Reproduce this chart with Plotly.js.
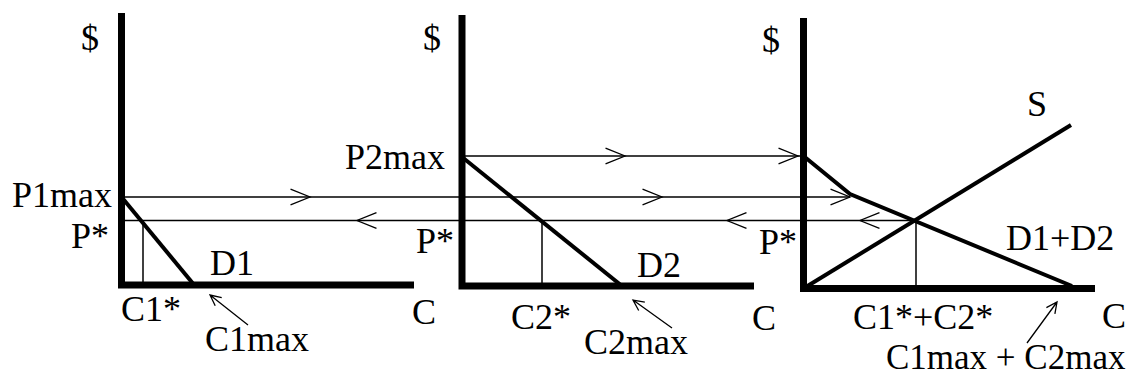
<!DOCTYPE html>
<html>
<head>
<meta charset="utf-8">
<script src="https://cdn.plot.ly/plotly-3.0.1.min.js"></script>
<style>html,body{margin:0;padding:0;background:#fff}</style>
</head>
<body>
<div id="chart" style="width:1135px;height:379px"></div>
<script>
// ── price levels (P2max, P1max, P*) ──────────────────────────────
const priceNames  = ['P2max', 'P1max', 'P*'];
const priceLevels = [130, 89, 65.5];

// ── demand / supply curves, quantity vs price, per panel ─────────
const d1Q     = [0, 73.5];
const d1P     = [89, 0];
const d2Q     = [0, 160];
const d2P     = [129, 0];
const dSumQ   = [0, 46.5, 268.5];
const dSumP   = [130, 92, 0];
const supplyQ = [4, 267.5];
const supplyP = [0, 161];

// equilibrium quantities: C1*, C2*, C1*+C2*
const cStar = [21.5, 80, 112.5];

// ── layout helpers (pixel positions, not data) ───────────────────
const X0       = [121.5, 462, 803.5];   // where each $ axis sits
const axisTop  = [273, 271, 268];
const axisLen  = [292.5, 292, 291.5];
const axisBase = [1, 0, -2.5];
const BASE_PX  = 286;                   // screen y of price 0
const py = v => BASE_PX - v;            // screen y <-> price units

const K = '#000';
const FONT = { family: 'Liberation Serif, Times New Roman, serif', size: 36, color: K };

const line = (x, y, w) => ({
    type: 'scatter', mode: 'lines', x, y, hoverinfo: 'skip', showlegend: false,
    line: { color: K, width: w },
});

const traces = [];
X0.forEach((x0, i) => {
    traces.push(line([x0, x0, x0 + axisLen[i]], [axisTop[i], axisBase[i], axisBase[i]], 7));
});

// thin horizontal price lines carried across panels
traces.push(line([X0[1], X0[2]], [priceLevels[0], priceLevels[0]], 1.5));
traces.push(line([X0[0], X0[2] + dSumQ[1]], [priceLevels[1], priceLevels[1]], 1.5));
traces.push(line([X0[0], X0[2] + cStar[2]], [priceLevels[2], priceLevels[2]], 1.5));

// C* drop lines
cStar.forEach((q, i) => traces.push(line([X0[i] + q, X0[i] + q], [priceLevels[2], 0], 1.5)));

traces.push(line(d1Q.map(q => X0[0] + q), d1P, 4));
traces.push(line(d2Q.map(q => X0[1] + q), d2P, 4));
traces.push(line(dSumQ.map(q => X0[2] + q), dSumP, 4));
traces.push(line(supplyQ.map(q => X0[2] + q), supplyP, 4));

// ── arrow heads (pixel-sized paths anchored at the tip) ──────────
function arrow(tip, tail, len, ang, withShaft) {
    const dx = tail[0] - tip[0], dy = tail[1] - tip[1];
    const n = Math.hypot(dx, dy), ux = dx / n, uy = dy / n;
    const a = ang * Math.PI / 180;
    const b = s => [len * (ux * Math.cos(s * a) - uy * Math.sin(s * a)),
                    len * (ux * Math.sin(s * a) + uy * Math.cos(s * a))];
    const [b1, b2] = [b(1), b(-1)];
    let p = `M${b1[0]},${-b1[1]}L0,0L${b2[0]},${-b2[1]}`;
    if (withShaft) p = `M${dx},${-dy}L0,0` + p;
    return {
        type: 'path', xref: 'x', yref: 'y', xsizemode: 'pixel', ysizemode: 'pixel',
        xanchor: tip[0], yanchor: py(tip[1]), path: p,
        line: { color: K, width: 1.3 },
    };
}

const shapes = [];
[625, 798].forEach(x => shapes.push(arrow([x, py(priceLevels[0])], [x - 10, py(priceLevels[0])], 21, 22)));
[310, 662, X0[2] + dSumQ[1]].forEach(x => shapes.push(arrow([x, py(priceLevels[1])], [x - 10, py(priceLevels[1])], 21, 22)));
[357, 727, 860].forEach(x => shapes.push(arrow([x, py(priceLevels[2])], [x + 10, py(priceLevels[2])], 21, 22)));

// pointers to the max quantities
shapes.push(arrow([210, 295], [248, 325], 12, 26, true));
shapes.push(arrow([633, 300], [672, 328], 12, 26, true));
shapes.push(arrow([1057, 302], [1027, 343], 12, 26, true));

// ── text labels ──────────────────────────────────────────────────
const labels = [
    ['$', 90, 38], ['$', 432, 38], ['$', 771, 40],
    ['P1max', 62, 195], ['P*', 90, 236],
    ['P2max', 395, 157], ['P*', 435, 241], ['P*', 778, 242],
    ['D1', 232, 263], ['D2', 659, 265], ['D1+D2', 1060, 238], ['S', 1037, 104],
    ['C1*', 151, 309], ['C1max', 257, 339], ['C', 424, 312],
    ['C2*', 541, 317], ['C2max', 636, 342], ['C', 764, 318],
    ['C1*+C2*', 923, 317], ['C', 1114, 316],
];
const annotations = labels.map(([t, x, y]) => ({
    text: t, x, y: py(y), xref: 'x', yref: 'y', showarrow: false,
    xanchor: 'center', yanchor: 'middle', font: FONT,
}));
// bottom label sits on the lower edge of the picture
annotations.push({
    text: 'C1max + C2max', x: 1006, y: py(379), xref: 'x', yref: 'y', showarrow: false,
    xanchor: 'center', yanchor: 'bottom', font: { ...FONT, size: 35 },
});

Plotly.newPlot('chart', traces, {
    width: 1135, height: 379,
    margin: { t: 0, r: 0, b: 0, l: 0 },
    paper_bgcolor: '#fff', plot_bgcolor: '#fff',
    xaxis: { range: [0, 1135], visible: false, fixedrange: true },
    yaxis: { range: [py(379), py(0)], visible: false, fixedrange: true },
    shapes, annotations, showlegend: false,
}, { staticPlot: true });
</script>
</body>
</html>
